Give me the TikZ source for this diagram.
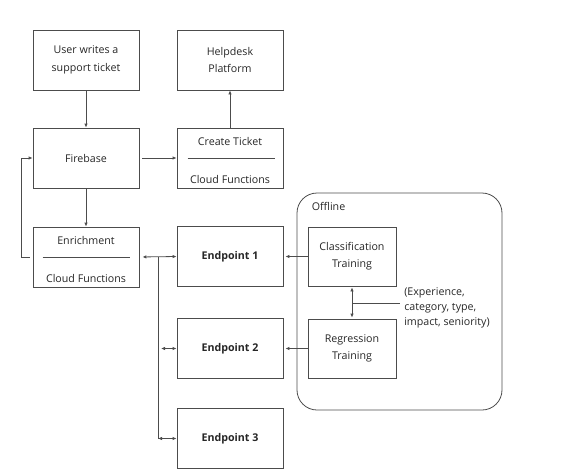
\documentclass[tikz,border=0pt]{standalone}
\usepackage{fontspec}
\setmainfont{Open Sans}
\usetikzlibrary{arrows.meta,calc}
\begin{document}
\begin{tikzpicture}[x=0.75pt,y=-0.75pt,
  lc/.style={draw=black!70, line width=0.6pt},
  txt/.style={font=\fontsize{8}{13}\selectfont, inner sep=0pt, align=center, text=black!85},
  box/.style={lc, txt, minimum width=79.5pt, minimum height=45pt},
  sbox/.style={lc, txt, minimum width=66pt, minimum height=44.25pt},
  bbox/.style={box, font=\fontsize{8}{13}\selectfont\bfseries},
  tip/.style={-{Latex[length=3pt,width=2.6pt]}},
  conn/.style={lc, tip},
  dconn/.style={lc, {Latex[length=3pt,width=2.6pt]}-{Latex[length=3pt,width=2.6pt]}},
  line/.style={lc}]
\useasboundingbox (0,0) rectangle (562,469);
% top row
\node[box] (user) at (86,60) {User writes a\\support ticket};
\node[box] (help) at (230,60) {Helpdesk\\Platform};
\node[box] (fire) at (86,158) {Firebase};
\node[box] (create) at (230,158) {};
\node[txt] (createt) at (230,141.5) {Create Ticket};
\node[txt] (createc) at (230,179.5) {Cloud Functions};
\draw[line] ([xshift=8.25pt]create.west) -- ([xshift=-6pt]create.east);
% enrichment
\node[box] (enr) at (86,257) {};
\node[txt] (enrt) at (86,240) {Enrichment};
\node[txt] (enrc) at (86,278.5) {Cloud Functions};
\draw[line] ([xshift=7.5pt]enr.west) -- ([xshift=-6.75pt]enr.east);
% endpoints
\node[bbox] (ep1) at (230,256.5) {Endpoint 1};
\node[bbox] (ep2) at (230,348.5) {Endpoint 2};
\node[bbox] (ep3) at (230,438.5) {Endpoint 3};
% offline
\node[lc, rounded corners=15pt, minimum width=153.75pt, minimum height=162.75pt] (off) at (399.5,301.5) {};
\node[txt, anchor=west] (offl) at (311.5,206) {Offline};
\node[sbox] (cls) at (352,256.5) {Classification\\Training};
\node[sbox] (reg) at (352,348.5) {Regression\\Training};
\node[txt, anchor=west, align=left, font=\fontsize{8}{11.25}\selectfont] (lab) at (404,308) {(Experience,\\category, type,\\impact, seniority)};
% connectors
\draw[conn] (user) -- (fire);
\draw[conn] (create) -- (help);
\draw[conn, shorten <=2.25pt] (fire) -- (create);
\draw[conn] (fire) -- (enr);
\draw[conn] ($(enr.west)+(-3,0)$) -| ($(fire.west)+(-11,0)$) -- (fire.west);
\draw[dconn, shorten <=2.25pt] (enr.east) -- (ep1.west);
\coordinate (j1) at (158,257);
\coordinate (j2) at (161,348.5);
\coordinate (j3) at (158,438.5);
\draw[line] (j1) -- (j3);
\draw[dconn] (j2) -- (ep2.west);
\draw[dconn] (j3) -- (ep3.west);
\draw[conn, shorten >=1.5pt] (cls.west) -- (ep1.east);
\draw[conn, shorten >=1.5pt] (reg.west) -- (ep2.east);
\draw[dconn, shorten <=0.75pt, shorten >=0.75pt] (cls.south) -- (reg.north);
\coordinate (m) at (352,303);
\coordinate (me) at (400,303);
\draw[line] (m) -- (me);
\end{tikzpicture}
\end{document}
